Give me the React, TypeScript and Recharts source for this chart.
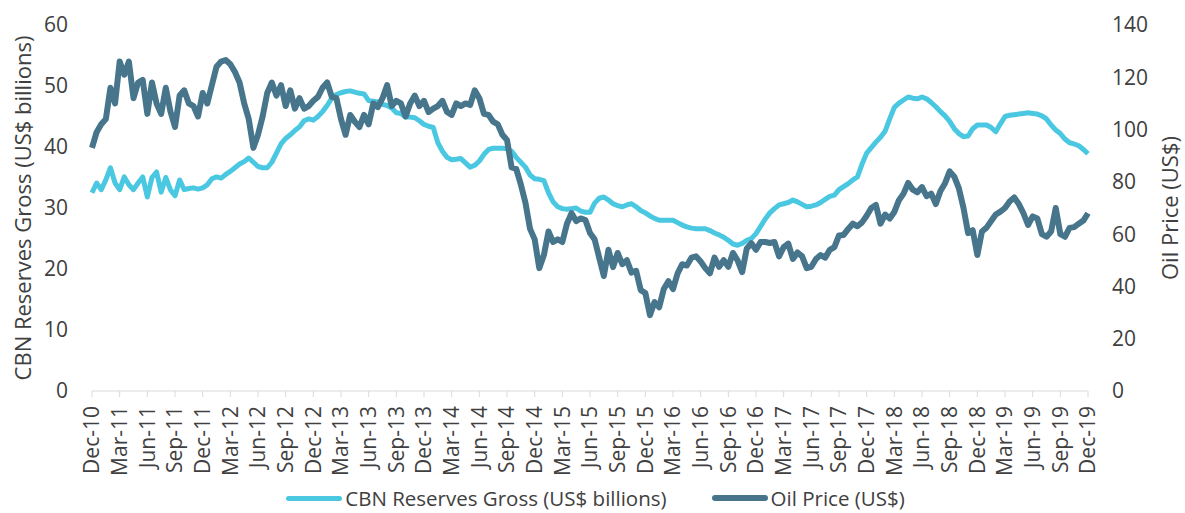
import { LineChart, Line, XAxis, YAxis, Legend } from 'recharts';

// quarter labels on the date axis, Dec-10 .. Dec-19
const quarterLabels = [
  'Dec-10', 'Mar-11', 'Jun-11', 'Sep-11', 'Dec-11', 'Mar-12', 'Jun-12', 'Sep-12', 'Dec-12',
  'Mar-13', 'Jun-13', 'Sep-13', 'Dec-13', 'Mar-14', 'Jun-14', 'Sep-14', 'Dec-14',
  'Mar-15', 'Jun-15', 'Sep-15', 'Dec-15', 'Mar-16', 'Jun-16', 'Sep-16', 'Dec-16',
  'Mar-17', 'Jun-17', 'Sep-17', 'Dec-17', 'Mar-18', 'Jun-18', 'Sep-18', 'Dec-18',
  'Mar-19', 'Jun-19', 'Sep-19', 'Dec-19',
];

const reserveTicks = [0, 10, 20, 30, 40, 50, 60];
const oilTicks = [0, 20, 40, 60, 80, 100, 120, 140];

// CBN gross reserves, US$ bn, twice a month from Dec-10
const reserves = [
  32.5, 34.1, 33, 34.6, 36.6, 34.1, 33, 35.1, 33.8, 33,
  34.1, 35.1, 31.8, 35, 35.9, 32.6, 35, 33, 32, 34.6,
  33, 33.2, 33.3, 33.1, 33.3, 33.8, 34.8, 35.1, 34.9, 35.5,
  36, 36.6, 37.2, 37.6, 38.2, 37.5, 36.8, 36.6, 36.6, 37.5,
  39, 40.5, 41.4, 42, 42.7, 43.3, 44.3, 44.6, 44.4, 45,
  45.8, 46.8, 48, 48.6, 48.9, 49.1, 49.2, 49, 48.8, 48.7,
  47.6, 47.5, 47.4, 47, 46.8, 46.4, 45.6, 45.5, 44.9, 44.9,
  44.8, 44.3, 43.7, 43.4, 43.2, 40.7, 39.3, 38.3, 37.9, 38,
  38.1, 37.4, 36.7, 37, 37.7, 38.8, 39.6, 39.8, 39.8, 39.8,
  39.7, 39.3, 38.3, 37.5, 36.7, 35.4, 34.8, 34.7, 34.5, 32.5,
  31, 30.2, 29.9, 29.8, 29.9, 30, 29.5, 29.3, 29.3, 30.8,
  31.6, 31.8, 31.3, 30.7, 30.4, 30.2, 30.5, 30.7, 30.2, 29.6,
  29.2, 28.7, 28.3, 28, 28, 28, 28, 27.6, 27.2, 26.9,
  26.7, 26.6, 26.6, 26.6, 26.3, 25.9, 25.6, 25.2, 24.7, 24.1,
  23.9, 24.2, 24.7, 25, 25.8, 27, 28.2, 29.2, 29.9, 30.5,
  30.7, 30.9, 31.3, 31, 30.6, 30.2, 30.3, 30.5, 30.9, 31.4,
  31.9, 32.1, 33, 33.5, 34, 34.6, 35.1, 37.2, 39, 39.9,
  40.8, 41.6, 42.6, 44.6, 46.5, 47.2, 47.7, 48.2, 48, 47.9,
  48.2, 47.9, 47.3, 46.6, 45.8, 45.1, 44.2, 43, 42.2, 41.7,
  41.8, 43, 43.6, 43.6, 43.6, 43.2, 42.5, 43.8, 45, 45.2,
  45.3, 45.4, 45.5, 45.6, 45.5, 45.4, 45.1, 44.6, 43.6, 42.8,
  42.2, 41.3, 40.7, 40.5, 40.2, 39.6, 38.9,
];

// oil price, US$, same half-month steps
const oilPrice = [
  93, 99, 102, 104, 116, 110, 126, 121, 126, 112,
  118, 119, 106, 118, 110, 106, 116, 107, 101, 113,
  115, 110, 109, 105, 114, 110, 117, 124, 126, 126.6,
  125, 122, 118, 110, 104, 93, 98, 105, 114, 118,
  113, 117, 109, 115, 108, 112, 108, 109, 111, 112.5,
  116, 118, 112.5, 112, 104, 98, 105.6, 103, 101, 105.6,
  102, 110, 108.6, 112, 117, 109, 111, 110, 105, 110,
  113, 109, 111, 106.7, 108, 109, 111, 106.7, 105.6, 110,
  109, 110, 109.4, 115, 112, 106, 105.6, 103, 102, 98,
  96, 85.5, 85, 79, 72, 62, 58, 47, 52, 61,
  57, 58, 57, 64, 68, 65, 66, 65.4, 60.4, 58,
  51, 44, 54, 47.4, 52.8, 48.5, 50, 45.3, 46, 38.6,
  37.5, 29, 34, 32, 39, 42, 39, 45, 48.5, 48,
  51, 51.5, 49.5, 47, 45, 51, 47.5, 50, 47.5, 52.8,
  50, 45.5, 54.5, 56.5, 54, 57, 57, 56.6, 57, 51.5,
  55, 56.4, 50.5, 53, 51.5, 47, 47.5, 50.5, 52, 51,
  54, 55, 59.5, 59.7, 62, 64, 63, 64.5, 67, 70,
  71.2, 64, 67.5, 66, 68.5, 73, 75.5, 79.6, 77, 76,
  78, 74.5, 75.5, 71.5, 76.5, 79.5, 84, 82, 77.5, 70,
  60.4, 61.5, 52, 61, 62.5, 65, 67.5, 68.6, 70, 72.5,
  74, 71.5, 68, 63.5, 66.8, 66, 60, 59, 61, 70,
  60, 59, 62.4, 62.7, 64, 65.2, 68,
];

// t = months since Dec-10
const chartData = reserves.map((v, i) => ({ t: i / 2, reserves: v, oil: oilPrice[i] }));
const quarterTicks = quarterLabels.map((_, i) => i * 3);

const RES_COLOR = '#4AC7E1';
const OIL_COLOR = '#46758C';
const TEXT = '#404040';
const FONT = '"Open Sans", sans-serif';

function QuarterTick({ x, y, payload }: any) {
  return (
    <g transform={`translate(${x},${y})`}>
      <text transform="rotate(-90)" textAnchor="end" dy="0.35em" fill={TEXT} fontSize={21} fontFamily={FONT}>
        {quarterLabels[Math.round(payload.value / 3)]}
      </text>
    </g>
  );
}

function AxisTitle({ viewBox, text, shift }: any) {
  const cx = viewBox.x + shift;
  const cy = viewBox.y + viewBox.height / 2;
  return (
    <text
      x={cx}
      y={cy}
      transform={`rotate(-90 ${cx} ${cy})`}
      textAnchor="middle"
      dominantBaseline="central"
      fill={TEXT}
      fontSize={22}
      fontFamily={FONT}
    >
      {text}
    </text>
  );
}

function ChartLegend() {
  const items = [
    { label: 'CBN Reserves Gross (US$ billions)', color: RES_COLOR, thick: 5 },
    { label: 'Oil Price (US$)', color: OIL_COLOR, thick: 6 },
  ];
  return (
    <div style={{ display: 'flex', justifyContent: 'center', alignItems: 'center', height: 30, gap: 45, paddingLeft: 6, fontFamily: FONT, fontSize: 20.5, color: TEXT }}>
      {items.map((it) => (
        <div key={it.label} style={{ display: 'flex', alignItems: 'center' }}>
          <span style={{ display: 'inline-block', width: 56, height: it.thick, borderRadius: 3, background: it.color, marginRight: 3 }} />
          <span>{it.label}</span>
        </div>
      ))}
    </div>
  );
}

export default function App() {
  return (
    <div style={{ position: 'absolute', left: 0, top: 0, background: '#fff' }}>
      <LineChart width={1185} height={513} data={chartData} margin={{ top: 25, right: 0, bottom: 0, left: 0 }}>
        <XAxis
          type="number"
          dataKey="t"
          domain={[0, 108]}
          ticks={quarterTicks}
          interval={0}
          height={92}
          tickSize={6}
          tickMargin={9}
          stroke="#D9D9D9"
          tick={<QuarterTick />}
        />
        <YAxis
          yAxisId="left"
          width={92}
          domain={[0, 60]}
          ticks={reserveTicks}
          axisLine={false}
          tickLine={false}
          tickMargin={18}
          tick={{ fill: TEXT, fontSize: 21, fontFamily: FONT }}
          label={<AxisTitle text="CBN Reserves Gross (US$ billions)" shift={22} />}
        />
        <YAxis
          yAxisId="right"
          orientation="right"
          width={97}
          domain={[0, 140]}
          ticks={oilTicks}
          axisLine={false}
          tickLine={false}
          tickMargin={18}
          tick={{ fill: TEXT, fontSize: 21, fontFamily: FONT, textAnchor: 'start' }}
          label={<AxisTitle text="Oil Price (US$)" shift={81} />}
        />
        <Legend verticalAlign="bottom" height={30} content={<ChartLegend />} />
        <Line
          yAxisId="left"
          type="linear"
          dataKey="reserves"
          stroke={RES_COLOR}
          strokeWidth={5}
          strokeLinejoin="round"
          dot={false}
          activeDot={false}
          isAnimationActive={false}
        />
        <Line
          yAxisId="right"
          type="linear"
          dataKey="oil"
          stroke={OIL_COLOR}
          strokeWidth={6}
          strokeLinejoin="round"
          dot={false}
          activeDot={false}
          isAnimationActive={false}
        />
      </LineChart>
    </div>
  );
}
